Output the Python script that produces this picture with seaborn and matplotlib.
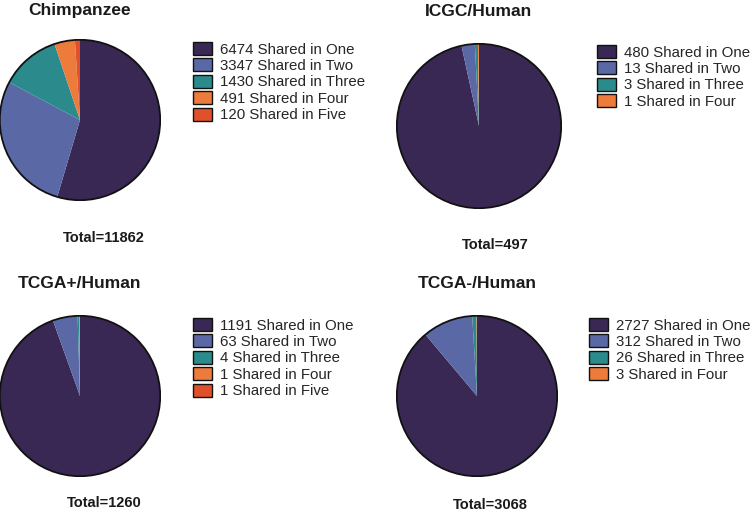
import matplotlib
matplotlib.use("Agg")
import matplotlib.pyplot as plt
import seaborn as sns

sns.set_style("white")
plt.rcParams['font.family'] = ['Liberation Sans', 'DejaVu Sans']

# data
titles = ["Chimpanzee", "ICGC/Human", "TCGA+/Human", "TCGA-/Human"]
levels = ["One", "Two", "Three", "Four", "Five"]
chimp = [6474, 3347, 1430, 491, 120]
icgc = [480, 13, 3, 1]
tcga_pos = [1191, 63, 4, 1, 1]
tcga_neg = [2727, 312, 26, 3]
totals = [11862, 497, 1260, 3068]
all_counts = [chimp, icgc, tcga_pos, tcga_neg]

palette = sns.color_palette(["#3a2854", "#5a69a6", "#2b8a8b", "#ec7b3c", "#e0512b"])

W, H = 755, 514
fig = plt.figure(figsize=(W / 100, H / 100), dpi=100)

# pixel layout: (pie cx, pie cy, radius, title x, title y, legend x, legend y, total x, total y)
layout = [
    (80, 120, 81, 80, 10, 193, 42, 104, 238),
    (479, 126, 83, 479, 11, 597, 45, 495, 245),
    (80, 396, 81, 80, 283, 193, 318, 104, 503),
    (477, 396, 81, 477, 283, 589, 318, 490, 505),
]


def px(x, y):
    return x / W, 1 - y / H


for title, counts, total, (cx, cy, r, tx, ty, lx, ly, ox, oy) in zip(
        titles, all_counts, totals, layout):
    ax = fig.add_axes([(cx - r) / W, (H - cy - r) / H, 2 * r / W, 2 * r / H])
    colors = palette[:len(counts)]
    wedges, _ = ax.pie(counts, colors=colors, startangle=90, counterclock=False,
                       wedgeprops=dict(linewidth=0))
    ax.add_patch(plt.Circle((0, 0), 1.0, fill=False, edgecolor="#111111", linewidth=1.3))
    ax.set_xlim(-1.01, 1.01)
    ax.set_ylim(-1.01, 1.01)
    ax.set_axis_off()

    handles = [plt.Rectangle((0, 0), 1, 1, facecolor=c, edgecolor="#111111", linewidth=1.0)
               for c in colors]
    labels = [f"{n} Shared in {lv}" for n, lv in zip(counts, levels)]
    fig.legend(handles, labels, loc="upper left", bbox_to_anchor=px(lx, ly),
               frameon=False, fontsize=10.8, handlelength=1.25, handleheight=0.95,
               handletextpad=0.55, labelspacing=0.12, borderaxespad=0, borderpad=0)

    fig.text(*px(tx, ty), title, ha="center", va="center", fontsize=12.5,
             fontweight="bold", color="#1a1a1a")
    fig.text(*px(ox, oy), f"Total={total}", ha="center", va="center", fontsize=10.5,
             fontweight="bold", color="#1a1a1a")

fig.savefig("out.png", dpi=100)
